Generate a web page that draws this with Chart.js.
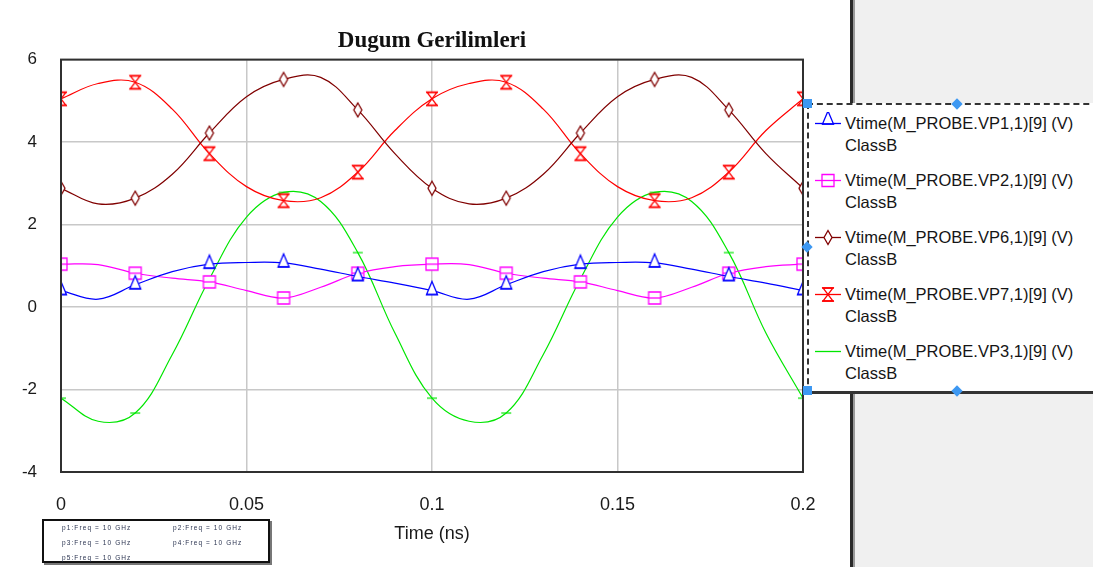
<!DOCTYPE html>
<html>
<head>
<meta charset="utf-8">
<script src="https://cdn.jsdelivr.net/npm/chart.js@4.4.1/dist/chart.umd.min.js"></script>
<style>
  html, body { margin:0; padding:0; background:#fff; }
  #wrap { position:relative; width:1093px; height:567px; overflow:hidden; background:#fff; }
  #chartBox { position:absolute; left:0; top:0; width:850px; height:567px; }
  #sepDark { position:absolute; left:850px; top:0; width:3px; height:567px; background:#2a2a2a; }
  #sepGray { position:absolute; left:853px; top:0; width:2px; height:567px; background:#9a9a9a; }
  #panel { position:absolute; left:855px; top:0; width:238px; height:567px; background:#f0f0f0; }
  #legend { position:absolute; left:807px; top:103px; width:300px; height:286px; background:#fff;
            border-top:2px dashed #333; border-left:2px dashed #333; border-bottom:3px solid #333; }
  .item { position:absolute; left:6px; font-family:"Liberation Sans", Arial, sans-serif; font-size:16.5px; color:#151515; line-height:22px; }
  .item .t { position:absolute; left:30px; top:0; white-space:nowrap; }
  .h { position:absolute; width:9px; height:9px; background:#3d98f2; }
  .hd { transform:rotate(45deg); width:8px; height:8px; }
  #pbox { position:absolute; left:42px; top:519px; width:224px; height:40px; border:2px solid #111; background:#fff;
          box-shadow:2px 2px 0 #777; font-family:"Liberation Sans", Arial, sans-serif; font-size:6.5px; color:#2a3350; letter-spacing:1.1px; }
  #pbox div { position:absolute; white-space:nowrap; }
</style>
</head>
<body>
<div id="wrap">
  <div id="chartBox"><canvas id="c" width="850" height="567"></canvas></div>
  <div id="panel"></div>
  <div id="sepDark"></div>
  <div id="sepGray"></div>
  <div id="legend"></div>
  <div class="h" style="left:803px;top:99px;"></div>
  <div class="h" style="left:803px;top:386px;"></div>
  <div class="h hd" style="left:953px;top:100px;"></div>
  <div class="h hd" style="left:803px;top:243px;"></div>
  <div class="h hd" style="left:953px;top:387px;"></div>
  <div id="pbox"></div>
</div>
<script>
// ---- data (time in ns, voltages in V) ----
const times = [0, 0.01, 0.02, 0.03, 0.04, 0.05, 0.06, 0.07, 0.08, 0.09, 0.10,
               0.11, 0.12, 0.13, 0.14, 0.15, 0.16, 0.17, 0.18, 0.19, 0.20];
const vp1 = [0.40, 0.19, 0.54, 0.86, 1.04, 1.08, 1.07, 0.92, 0.74, 0.58, 0.40,
             0.19, 0.54, 0.86, 1.04, 1.08, 1.07, 0.92, 0.74, 0.58, 0.40];
const vp2 = [1.04, 1.03, 0.82, 0.70, 0.61, 0.40, 0.22, 0.48, 0.82, 0.98, 1.04,
             1.03, 0.82, 0.70, 0.61, 0.40, 0.22, 0.48, 0.82, 0.98, 1.04];
const vp6 = [2.88, 2.50, 2.64, 3.22, 4.22, 5.10, 5.52, 5.57, 4.78, 3.72, 2.88,
             2.50, 2.64, 3.22, 4.22, 5.10, 5.52, 5.57, 4.78, 3.72, 2.88];
const vp7 = [5.05, 5.42, 5.45, 4.80, 3.72, 2.92, 2.58, 2.65, 3.27, 4.28, 5.05,
             5.42, 5.45, 4.80, 3.72, 2.92, 2.58, 2.65, 3.27, 4.28, 5.05];
const vp3 = [-2.21, -2.77, -2.57, -1.15, 0.68, 2.18, 2.78, 2.56, 1.32, -0.63, -2.21,
             -2.77, -2.57, -1.15, 0.68, 2.18, 2.78, 2.56, 1.32, -0.63, -2.21];
const seriesNames = ["Vtime(M_PROBE.VP1,1)[9] (V)", "Vtime(M_PROBE.VP2,1)[9] (V)",
                     "Vtime(M_PROBE.VP6,1)[9] (V)", "Vtime(M_PROBE.VP7,1)[9] (V)",
                     "Vtime(M_PROBE.VP3,1)[9] (V)"];
const seriesSub = "ClassB";
const xTickLabels = ["0", "0.05", "0.1", "0.15", "0.2"];
const yTickLabels = ["-4", "-2", "0", "2", "4", "6"];
const markerNotes = ["p1:Freq = 10 GHz", "p2:Freq = 10 GHz", "p3:Freq = 10 GHz", "p4:Freq = 10 GHz", "p5:Freq = 10 GHz"];

const colors = ["#0000ff", "#ff00ff", "#800000", "#ff0000", "#00e600"];
const kinds = ["tri", "sq", "dia", "hour", "dash"];

function drawShape(ctx, kind, cx, cy, color) {
  ctx.strokeStyle = color; ctx.lineWidth = 1.3; ctx.fillStyle = "#fff";
  ctx.beginPath();
  if (kind === "tri") {
    ctx.moveTo(cx, cy - 9); ctx.lineTo(cx + 5.5, cy + 4); ctx.lineTo(cx - 5.5, cy + 4); ctx.closePath();
    ctx.fill(); ctx.stroke();
    ctx.beginPath(); ctx.moveTo(cx - 6, cy + 4); ctx.lineTo(cx + 6, cy + 4); ctx.stroke();
  } else if (kind === "sq") {
    ctx.rect(cx - 6, cy - 6, 12, 12); ctx.fill(); ctx.stroke();
    ctx.beginPath(); ctx.moveTo(cx - 6, cy); ctx.lineTo(cx + 6, cy); ctx.stroke();
  } else if (kind === "dia") {
    ctx.moveTo(cx, cy - 7); ctx.lineTo(cx + 4, cy); ctx.lineTo(cx, cy + 7); ctx.lineTo(cx - 4, cy); ctx.closePath();
    ctx.fill(); ctx.stroke();
  } else if (kind === "hour") {
    ctx.moveTo(cx - 5, cy - 6.5); ctx.lineTo(cx + 5, cy - 6.5); ctx.lineTo(cx - 5, cy + 6.5); ctx.lineTo(cx + 5, cy + 6.5); ctx.closePath();
    ctx.fill(); ctx.stroke();
    ctx.beginPath(); ctx.moveTo(cx - 6, cy - 6.5); ctx.lineTo(cx + 6, cy - 6.5);
    ctx.moveTo(cx - 6, cy + 6.5); ctx.lineTo(cx + 6, cy + 6.5); ctx.stroke();
  } else if (kind === "dash") {
    ctx.lineWidth = 1.2; ctx.moveTo(cx - 5, cy); ctx.lineTo(cx + 5, cy); ctx.stroke();
  }
}
function markerCanvas(kind, color) {
  const c = document.createElement("canvas");
  c.width = 16; c.height = 22;
  drawShape(c.getContext("2d"), kind, 8, 11, color);
  return c;
}

const seriesValues = [vp1, vp2, vp6, vp7, vp3];
const datasets = seriesValues.map((vals, k) => ({
  label: seriesNames[k],
  data: vals.map((v, i) => ({ x: times[i], y: v })),
  borderColor: colors[k],
  borderWidth: 1.2,
  tension: 0.38,
  fill: false,
  pointStyle: markerCanvas(kinds[k], colors[k]),
  pointRadius: vals.map((v, i) => (i % 2 === 0 ? 5 : 0)),
  pointHoverRadius: 0,
}));

const boxPlugin = {
  id: "plotBox",
  afterDatasetsDraw(chart) {
    const a = chart.chartArea, ctx = chart.ctx;
    ctx.save(); ctx.strokeStyle = "#303030"; ctx.lineWidth = 2;
    ctx.strokeRect(a.left, a.top, a.right - a.left, a.bottom - a.top);
    ctx.restore();
  }
};
const bgPlugin = {
  id: "bg",
  beforeDraw(chart) {
    const ctx = chart.ctx; ctx.save(); ctx.fillStyle = "#fff";
    ctx.fillRect(0, 0, chart.width, chart.height); ctx.restore();
  }
};

new Chart(document.getElementById("c"), {
  type: "line",
  data: { datasets },
  plugins: [bgPlugin, boxPlugin],
  options: {
    responsive: false,
    animation: false,
    layout: { padding: { left: 0, right: 47, top: 0, bottom: 0 } },
    plugins: {
      legend: { display: false },
      tooltip: { enabled: false },
      title: {
        display: true, fullSize: false, text: "Dugum Gerilimleri", color: "#111",
        font: { family: "Liberation Serif", size: 23, weight: "bold", lineHeight: 1.2 },
        padding: { top: 27, bottom: 5 }
      }
    },
    scales: {
      x: {
        type: "linear", min: 0, max: 0.2,
        afterFit: (s) => { s.height = 95; },
        afterBuildTicks: (s) => { s.ticks = xTickLabels.map(t => ({ value: parseFloat(t) })); },
        ticks: {
          padding: 22, color: "#1a1a1a", maxRotation: 0, autoSkip: false,
          font: { family: "Liberation Sans", size: 18 },
          callback: (v, i) => xTickLabels[i]
        },
        grid: { color: "#c8c8c8", lineWidth: 1.5, drawTicks: false },
        border: { display: false },
        title: {
          display: true, text: "Time (ns)", color: "#1a1a1a",
          font: { family: "Liberation Sans", size: 18, lineHeight: 1.2 },
          padding: { top: 0, bottom: 22 }
        }
      },
      y: {
        min: -4, max: 6,
        afterFit: (s) => { s.width = 61; },
        afterBuildTicks: (s) => { s.ticks = yTickLabels.map(t => ({ value: parseFloat(t) })); },
        ticks: {
          padding: 24, color: "#1a1a1a", autoSkip: false,
          font: { family: "Liberation Sans", size: 17 },
          callback: (v, i) => yTickLabels[i]
        },
        grid: { color: "#c8c8c8", lineWidth: 1.5, drawTicks: false },
        border: { display: false }
      }
    }
  }
});

// ---- HTML legend ----
const leg = document.getElementById("legend");
seriesNames.forEach((name, k) => {
  const d = document.createElement("div");
  d.className = "item";
  d.style.top = (7 + 57 * k) + "px";
  const cv = document.createElement("canvas");
  cv.width = 26; cv.height = 22;
  cv.style.position = "absolute"; cv.style.left = "0px"; cv.style.top = "0px";
  const g = cv.getContext("2d");
  g.strokeStyle = colors[k]; g.lineWidth = 1.3;
  g.beginPath(); g.moveTo(0, 11.5); g.lineTo(26, 11.5); g.stroke();
  if (kinds[k] !== "dash") drawShape(g, kinds[k], 13, kinds[k] === "tri" ? 8 : 11.5, colors[k]);
  d.appendChild(cv);
  const t = document.createElement("div");
  t.className = "t";
  t.innerHTML = name + "<br>" + seriesSub;
  d.appendChild(t);
  leg.appendChild(d);
});

// ---- marker note box ----
const pb = document.getElementById("pbox");
const pos = [[18, 3], [129, 3], [18, 18], [129, 18], [18, 33]];
markerNotes.forEach((txt, i) => {
  const d = document.createElement("div");
  d.style.left = pos[i][0] + "px"; d.style.top = pos[i][1] + "px";
  d.textContent = txt;
  pb.appendChild(d);
});
</script>
</body>
</html>
